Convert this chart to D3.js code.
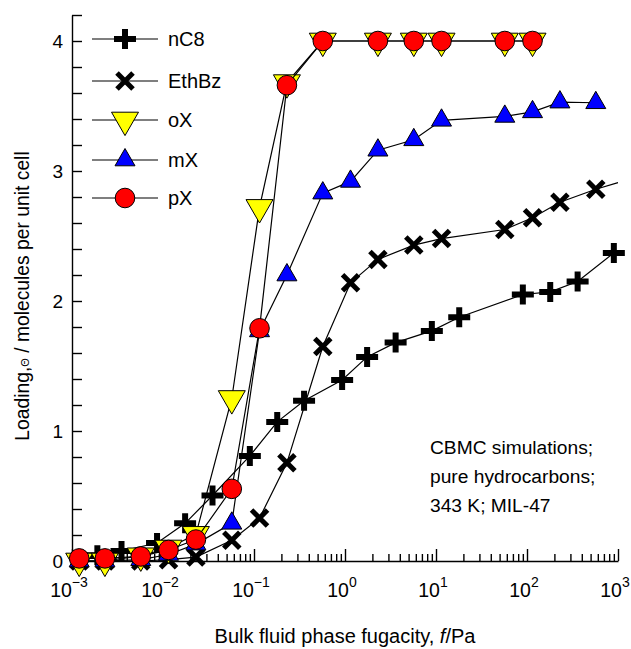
<!DOCTYPE html>
<html lang="en">
<head>
<meta charset="utf-8">
<title>Loading isotherms - MIL-47</title>
<script src="https://cdn.jsdelivr.net/npm/d3@7"></script>
<style>
	body { margin: 0; background: #fff; }
	svg { display: block; font-family: "Liberation Sans", Arial, sans-serif; }
</style>
</head>
<body>
<svg width="631" height="649"></svg>
<script type="text/javascript">

	// fugacity grid shared by EthBz, oX, mX, pX (Pa)
	var fGrid = [0.0012, 0.0023, 0.0057, 0.0115, 0.023, 0.057, 0.115, 0.23, 0.57, 1.15, 2.3, 5.7, 11.5, 57, 115, 230, 570];
	// nC8 was run on its own grid
	var fC8 = [0.0019, 0.0035, 0.0086, 0.0175, 0.035, 0.09, 0.18, 0.355, 0.93, 1.75, 3.6, 9.0, 18, 90, 180, 360, 900];

	var nC8   = [0.045, 0.077, 0.138, 0.29, 0.504, 0.808, 1.07, 1.233, 1.392, 1.57, 1.68, 1.77, 1.875, 2.05, 2.07, 2.15, 2.37];
	var ethBz = [0.0, 0.0, 0.0, 0.01, 0.03, 0.16, 0.33, 0.755, 1.65, 2.14, 2.32, 2.43, 2.48, 2.55, 2.64, 2.76, 2.86];
	var mX    = [0.0, 0.0, 0.01, 0.05, 0.13, 0.29, 1.77, 2.2, 2.83, 2.92, 3.16, 3.24, 3.39, 3.42, 3.455, 3.53, 3.525];
	// oX and pX stop at 115 Pa and skip 1.15 Pa
	var fXylene = [0.0012, 0.0023, 0.0057, 0.0115, 0.023, 0.057, 0.115, 0.23, 0.57, 2.3, 5.7, 11.5, 57, 115];
	var oX    = [0.0, 0.0, 0.04, 0.1, 0.205, 1.25, 2.72, 3.68, 4.0, 4.0, 4.0, 4.0, 4.0, 4.0];
	var pX    = [0.02, 0.02, 0.035, 0.085, 0.165, 0.555, 1.79, 3.66, 4.0, 4.0, 4.0, 4.0, 4.0, 4.0];
	// EthBz line runs on to the axis end
	var ethBzTail = {f: 1000, v: 2.91};

	var seriesNames = ["nC8", "EthBz", "oX", "mX", "pX"];
	var annotation = ["CBMC simulations;", "pure hydrocarbons;", "343 K; MIL-47"];

	function zip(fs, vs) {
		return fs.map(function(f, i) { return {f: f, v: vs[i]}; });
	}

	var series = [
		{name: "nC8",   pts: zip(fC8, nC8),      mark: "plus"},
		{name: "EthBz", pts: zip(fGrid, ethBz).concat([ethBzTail]), mark: "cross"},
		{name: "oX",    pts: zip(fXylene, oX),   mark: "tridown"},
		{name: "mX",    pts: zip(fGrid, mX),     mark: "triup"},
		{name: "pX",    pts: zip(fXylene, pX),   mark: "circle"}
	];

	var svg = d3.select("svg");
	var x = d3.scaleLog().domain([1e-3, 1e3]).range([72, 618]);
	var y = d3.scaleLinear().domain([0, 4.2]).range([561, 15]);

	// marker drawing
	function drawMark(g, kind) {
		if (kind == "plus") {
			g.append("path").attr("d", "M-11,0H11M0,-10V10")
				.attr("stroke", "#000").attr("stroke-width", 6).attr("fill", "none");
		} else if (kind == "cross") {
			g.append("path").attr("d", "M-8,-8L8,8M-8,8L8,-8")
				.attr("stroke", "#000").attr("stroke-width", 5).attr("fill", "none");
		} else if (kind == "tridown") {
			g.append("path").attr("d", "M-13.5,-7.8L13.5,-7.8L0,15.6Z")
				.attr("fill", "#ffff00").attr("stroke", "#000").attr("stroke-width", 1);
		} else if (kind == "triup") {
			g.append("path").attr("d", "M-10,5.8L10,5.8L0,-11.5Z")
				.attr("fill", "#0000ff").attr("stroke", "#000").attr("stroke-width", 1);
		} else {
			g.append("circle").attr("r", 9.8)
				.attr("fill", "#ff0000").attr("stroke", "#000").attr("stroke-width", 1);
		}
	}

	// axes
	var decades = d3.range(-3, 4).map(function(e) { return Math.pow(10, e); });
	var minors = x.ticks().filter(function(t) {
		return Math.abs(Math.log10(t) - Math.round(Math.log10(t))) > 1e-6;
	});

	svg.append("g").attr("transform", "translate(0,561)")
		.call(d3.axisBottom(x).tickValues(minors).tickSizeInner(-7).tickSizeOuter(0).tickFormat(""))
		.call(function(g) { g.select(".domain").remove(); });
	svg.append("g").attr("transform", "translate(0,561)")
		.call(d3.axisBottom(x).tickValues(decades).tickSizeInner(-12).tickSizeOuter(0).tickFormat(""));

	var yTicks = d3.range(0, 22).map(function(i) { return i * 0.2; });
	svg.append("g").attr("transform", "translate(72,0)")
		.call(d3.axisLeft(y).tickValues(yTicks).tickSizeInner(-10).tickSizeOuter(0).tickPadding(9)
			.tickFormat(function(d) { return Math.abs(d - Math.round(d)) < 1e-6 ? d3.format("d")(Math.round(d)) : ""; }))
		.call(function(g) {
			g.selectAll("text").attr("font-size", 19).attr("font-family", "Liberation Sans, Arial, sans-serif");
		});

	svg.selectAll("g .domain, g .tick line").attr("stroke", "#000").attr("stroke-width", 1.4);

	// x tick labels 10^n
	var xl = svg.append("g").selectAll("text").data(decades).enter().append("text")
		.attr("x", function(d) { return x(d) - 3; })
		.attr("y", 597)
		.attr("text-anchor", "middle")
		.attr("font-size", 19.5);
	xl.append("tspan").text("10");
	xl.append("tspan").attr("dy", -10).attr("font-size", 14)
		.text(function(d) { var e = Math.round(Math.log10(d)); return e < 0 ? "\u2212" + (-e) : e; });

	// axis titles
	var xt = svg.append("text").attr("x", 345).attr("y", 643).attr("text-anchor", "middle").attr("font-size", 20);
	xt.append("tspan").text("Bulk fluid phase fugacity, ");
	xt.append("tspan").attr("font-style", "italic").text("f");
	xt.append("tspan").text("/Pa");

	var yt = svg.append("text").attr("transform", "translate(29,296) rotate(-90)")
		.attr("text-anchor", "middle").attr("font-size", 19.3);
	yt.append("tspan").text("Loading,");
	yt.append("tspan").attr("font-size", 11).text("\u0398");
	yt.append("tspan").text("  / molecules per unit cell");

	// series
	var line = d3.line().x(function(d) { return x(d.f); }).y(function(d) { return y(d.v); });

	series.forEach(function(s) {
		var g = svg.append("g");
		g.append("path").datum(s.pts).attr("d", line)
			.attr("fill", "none").attr("stroke", "#000").attr("stroke-width", 1.2);
		g.selectAll(".m").data(s.pts.filter(function(d) { return d.f < 1000; }))
			.enter().append("g").attr("class", "m")
			.attr("transform", function(d) { return "translate(" + x(d.f) + "," + y(d.v) + ")"; })
			.each(function() { drawMark(d3.select(this), s.mark); });
	});

	// legend
	var legY = [39, 81, 120, 160, 198];
	var leg = svg.append("g").selectAll("g").data(series).enter().append("g")
		.attr("transform", function(d, i) { return "translate(0," + legY[i] + ")"; });
	leg.append("line").attr("x1", 92).attr("x2", 158).attr("stroke", "#000").attr("stroke-width", 1.2);
	leg.append("g").attr("transform", "translate(125,0)")
		.each(function(d) { drawMark(d3.select(this), d.mark); });
	leg.append("text").attr("x", 168).attr("dy", "0.35em").attr("font-size", 20)
		.text(function(d, i) { return seriesNames[i]; });

	// annotation
	svg.append("g").selectAll("text").data(annotation).enter().append("text")
		.attr("x", 430).attr("y", function(d, i) { return 454 + i * 29; })
		.attr("font-size", 19.2).text(function(d) { return d; });

</script>
</body>
</html>
